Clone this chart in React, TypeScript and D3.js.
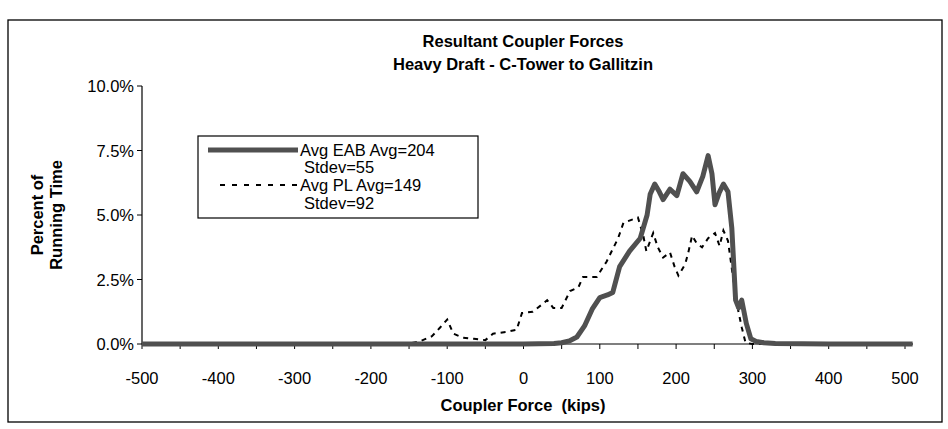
import React, { useEffect } from "react";
import * as d3 from "d3";

const titleLines = ["Resultant Coupler Forces", "Heavy Draft - C-Tower to Gallitzin"];
const xTickValues = [-500, -400, -300, -200, -100, 0, 100, 200, 300, 400, 500];
const xMinorTicks = [-500, -450, -400, -350, -300, -250, -200, -150, -100, -50, 0, 50, 100, 150, 200, 250, 300, 350, 400, 450, 500];
const yTickValues = [0, 2.5, 5, 7.5, 10];

const eabForce = [-500, -400, -300, -200, -100, 0, 40, 50, 60, 70, 80, 90, 100, 110, 117, 126, 139, 153, 162, 166, 172, 178, 183, 192, 201, 209, 218, 227, 235, 242, 247, 251, 257, 262, 268, 273, 278, 282, 286, 292, 298, 305, 315, 330, 400, 510];
const eabPct = [0, 0, 0, 0, 0, 0, 0.02, 0.05, 0.12, 0.27, 0.7, 1.35, 1.8, 1.9, 2.0, 3.0, 3.6, 4.1, 5.0, 5.8, 6.2, 5.9, 5.6, 6.0, 5.75, 6.6, 6.3, 5.9, 6.5, 7.3, 6.6, 5.4, 5.9, 6.2, 5.9, 4.5, 1.7, 1.4, 1.7, 0.8, 0.2, 0.1, 0.05, 0.02, 0, 0];

const plForce = [-500, -300, -160, -150, -136, -120, -109, -100, -92, -80, -65, -50, -40, -22, -9, -2, 12, 25, 31, 39, 50, 61, 72, 78, 96, 109, 124, 131, 150, 157, 161, 170, 176, 183, 192, 198, 203, 212, 216, 221, 227, 234, 242, 251, 257, 262, 268, 275, 280, 286, 291, 300, 510];
const plPct = [0, 0, 0, 0.02, 0.1, 0.3, 0.65, 0.95, 0.4, 0.25, 0.2, 0.15, 0.4, 0.47, 0.55, 1.2, 1.25, 1.55, 1.7, 1.4, 1.4, 2.05, 2.2, 2.6, 2.6, 3.2, 4.1, 4.7, 4.9, 4.2, 3.6, 4.3, 3.75, 3.35, 3.55, 3.0, 2.65, 3.1, 3.55, 4.2, 3.9, 3.75, 4.1, 4.3, 3.8, 4.4, 4.0, 2.5, 1.5, 0.65, 0.05, 0, 0];

const legendLabels = [["Avg EAB Avg=204", "Stdev=55"], ["Avg PL Avg=149", "Stdev=92"]];

export default function App() {
  useEffect(() => {
    document.body.style.margin = "0";
  }, []);

  const W = 948, H = 429;
  const x = d3.scaleLinear().domain([-500, 500]).range([142, 905]);
  const y = d3.scaleLinear().domain([0, 10]).range([344, 86]);
  const font = "Liberation Sans, Arial, sans-serif";
  const eabColor = "#505050";

  const line = d3.line<[number, number]>().x(d => x(d[0])).y(d => y(d[1]));
  const eabData = eabForce.map((f, i) => [f, eabPct[i]] as [number, number]);
  const plData = plForce.map((f, i) => [f, plPct[i]] as [number, number]);

  const lg = { x: 198, y: 136, w: 280, h: 82 };
  const rowY = [150, 167, 185, 203];

  return (
    <svg width={W} height={H} style={{ display: "block", background: "#fff" }}>
      <rect x={8} y={20} width={934} height={402} fill="none" stroke="#000" strokeWidth={1.3} />
      {titleLines.map((t, i) => (
        <text key={i} x={523} y={47 + i * 23} textAnchor="middle" fontFamily={font} fontWeight="bold" fontSize={16.5} fill="#000">{t}</text>
      ))}
      {/* y axis */}
      <line x1={x(-500)} x2={x(-500)} y1={y(10)} y2={y(0)} stroke="#000" strokeWidth={1.2} />
      {yTickValues.map(v => (
        <g key={v}>
          <line x1={x(-500) - 5} x2={x(-500)} y1={y(v)} y2={y(v)} stroke="#000" strokeWidth={1} />
          <text x={x(-500) - 8} y={y(v) + 6} textAnchor="end" fontFamily={font} fontSize={16.5} fill="#000">{v.toFixed(1) + "%"}</text>
        </g>
      ))}
      {/* x axis */}
      <line x1={x(-500)} x2={x(500)} y1={y(0)} y2={y(0)} stroke="#000" strokeWidth={1.2} />
      {xMinorTicks.map(v => (
        <line key={v} x1={x(v)} x2={x(v)} y1={y(0)} y2={y(0) + 5} stroke="#000" strokeWidth={1} />
      ))}
      {xTickValues.map(v => (
        <text key={v} x={x(v)} y={y(0) + 40} textAnchor="middle" fontFamily={font} fontSize={16.5} fill="#000">{String(v)}</text>
      ))}
      <text x={523} y={411} textAnchor="middle" fontFamily={font} fontWeight="bold" fontSize={16.5} fill="#000" style={{ whiteSpace: "pre" }}>{"Coupler Force  (kips)"}</text>
      <text transform="translate(43,215) rotate(-90)" textAnchor="middle" fontFamily={font} fontWeight="bold" fontSize={16.5} fill="#000">Percent of</text>
      <text transform="translate(62,215) rotate(-90)" textAnchor="middle" fontFamily={font} fontWeight="bold" fontSize={16.5} fill="#000">Running Time</text>
      {/* series */}
      <path d={line(plData) || ""} fill="none" stroke="#000" strokeWidth={2} strokeDasharray="5,5" />
      <path d={line(eabData) || ""} fill="none" stroke={eabColor} strokeWidth={5} strokeLinejoin="round" />
      {/* legend */}
      <rect x={lg.x} y={lg.y} width={lg.w} height={lg.h} fill="#fff" stroke="#000" strokeWidth={1.2} />
      <line x1={lg.x + 10} x2={lg.x + 100} y1={rowY[0]} y2={rowY[0]} stroke={eabColor} strokeWidth={5} />
      <line x1={lg.x + 22} x2={lg.x + 102} y1={rowY[2]} y2={rowY[2]} stroke="#000" strokeWidth={2} strokeDasharray="5,7" />
      {legendLabels.map((lines, i) => lines.map((t, j) => (
        <text key={i + "-" + j} x={lg.x + (j === 0 ? 102 : 106)} y={rowY[i * 2 + j] + 6} fontFamily={font} fontSize={16.5} fill="#000">{t}</text>
      )))}
    </svg>
  );
}
